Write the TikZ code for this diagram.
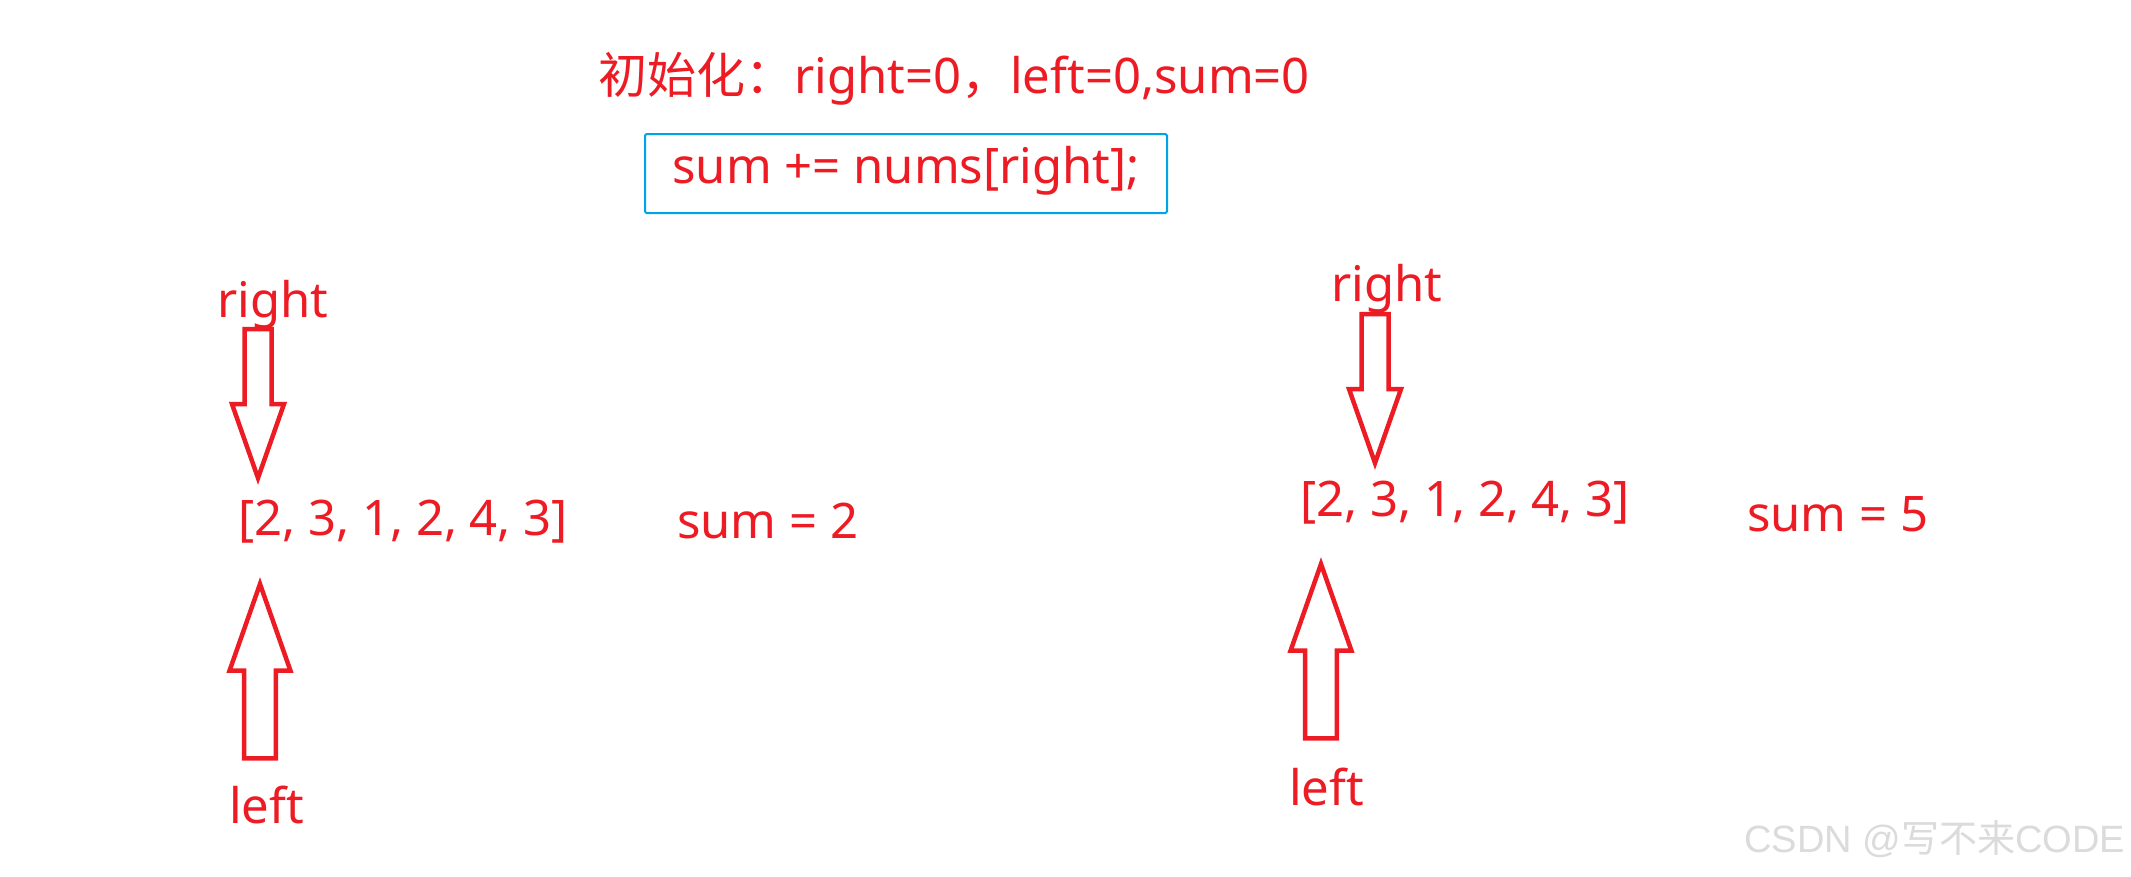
\documentclass[tikz,border=0pt]{standalone}
\usepackage{fontspec}
\setmainfont{Noto Sans}[Numbers=Lining]
\newfontfamily\cjk{Noto Sans CJK SC}
\newfontfamily\wmfont{Liberation Sans}
\definecolor{paintred}{RGB}{237,28,36}
\definecolor{paintblue}{RGB}{0,162,232}
\tikzset{
	lbl/.style={text=paintred, inner sep=0pt, anchor=base west, font=\fontsize{49}{55}\selectfont},
	hollowarr/.pic={\draw[paintred, line width=4.5pt] (0,0) -- (-26,-74) -- (-13.5,-74) -- (-13.5,-149) -- (13.5,-149) -- (13.5,-74) -- (26,-74) -- cycle;}
}

\begin{document}
\begin{tikzpicture}[x=1pt,y=-1pt]
	\useasboundingbox[fill=white] (0,0) rectangle (2131,876);
	% header
	\node[lbl] (init) at (598,93) {{\cjk 初始化：}right=0{\cjk ，}left=0,sum=0};
	\node[lbl, anchor=base, draw=paintblue, line width=2pt, rounded corners=1.5pt, minimum width=522pt, text height=49pt, text depth=30pt] (update) at (906,183) {sum += nums[right];};
	% first step
	\node[lbl] (rightA) at (217,317) {right};
	\node[lbl] (arrA) at (238,535) {[2, 3, 1, 2, 4, 3]};
	\node[lbl] (sumA) at (677,538) {sum = 2};
	\node[lbl] (leftA) at (229,823) {left};
	\pic at (258,478) {hollowarr};
	\pic[rotate=180, scale=1.17] at (260,584) {hollowarr};
	% second step
	\node[lbl] (rightB) at (1331,301) {right};
	\node[lbl] (arrB) at (1300,516) {[2, 3, 1, 2, 4, 3]};
	\node[lbl] (sumB) at (1747,531) {sum = 5};
	\node[lbl] (leftB) at (1289,805) {left};
	\pic at (1375,463) {hollowarr};
	\pic[rotate=180, scale=1.17] at (1321,564) {hollowarr};
	% watermark
	\node[lbl, text=gray!28, font=\wmfont\fontsize{38}{44}\selectfont] (mark) at (1744,852) {CSDN @{\cjk 写不来}CODE};
\end{tikzpicture}
\end{document}
